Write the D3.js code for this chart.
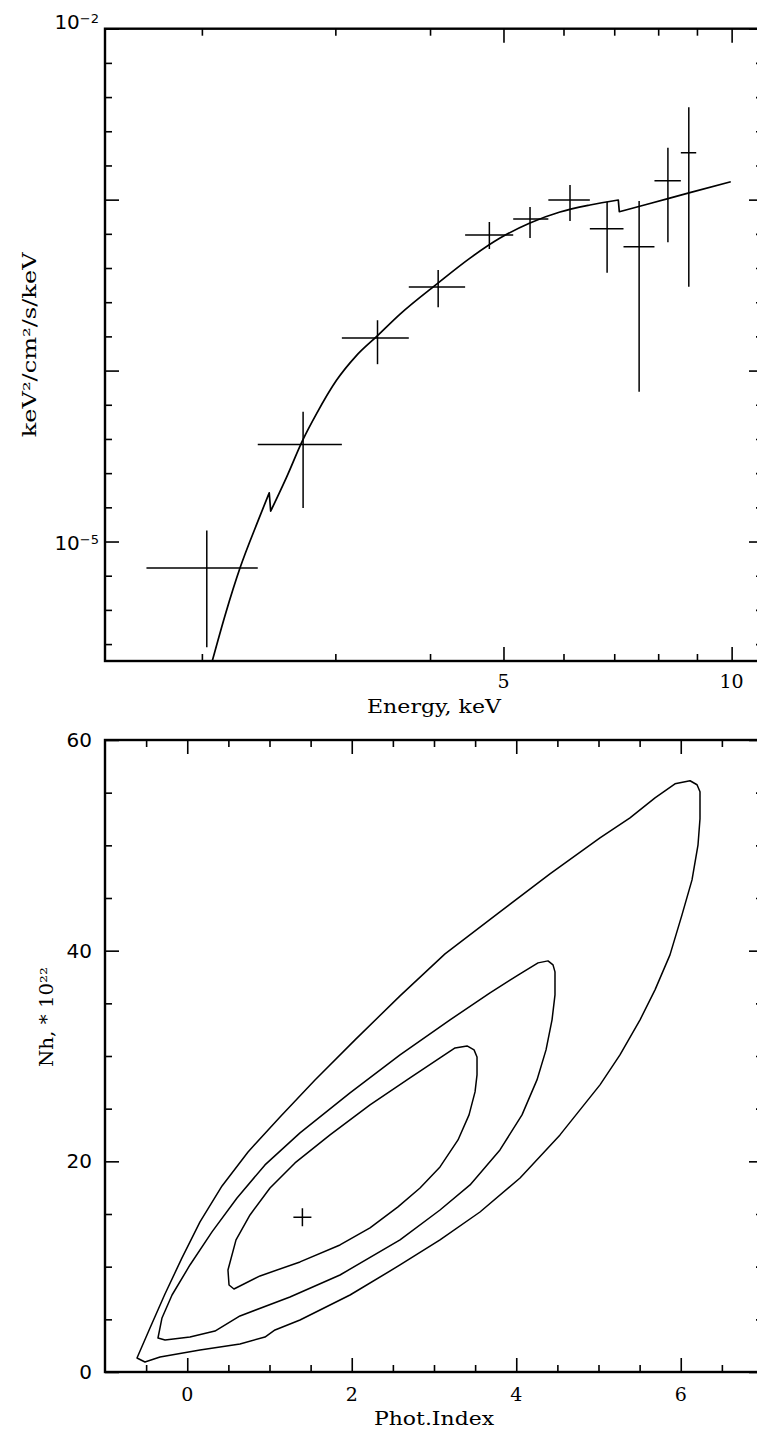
<!DOCTYPE html>
<html>
<head>
<meta charset="utf-8">
<script src="https://cdn.jsdelivr.net/npm/d3@7"></script>
<style>
  body { margin: 0; background: #fff; }
  svg { display: block; }
</style>
</head>
<body>
<svg id="chart" width="757" height="1431"></svg>
<script>
// ---------------- spectrum: binned data (keV, keV^2/cm^2/s/keV) ----------------
const binLo  = [1.69, 2.37, 3.06, 3.75, 4.45, 5.15, 5.73, 6.50, 7.20, 7.91, 8.57];
const binHi  = [2.37, 3.06, 3.75, 4.45, 5.15, 5.73, 6.50, 7.20, 7.91, 8.57, 8.98];
const binMid = [2.03, 2.72, 3.41, 4.10, 4.79, 5.42, 6.12, 6.85, 7.55, 8.24, 8.78];
const flux   = [7.0e-6, 3.70e-5, 1.55e-4, 3.08e-4, 6.21e-4, 7.70e-4, 9.95e-4, 6.76e-4, 5.30e-4, 1.29e-3, 1.88e-3];
const fluxLo = [2.41e-6, 1.57e-5, 1.09e-4, 2.35e-4, 5.14e-4, 5.96e-4, 7.49e-4, 3.74e-4, 7.52e-5, 5.63e-4, 3.09e-4];
const fluxHi = [1.16e-5, 5.74e-5, 1.97e-4, 3.87e-4, 7.39e-4, 9.05e-4, 1.22e-3, 9.72e-4, 9.81e-4, 2.01e-3, 3.47e-3];

// best-fit model curve (absorbed power law; S and Fe K edges give the steps)
const modelE = [2.064, 2.152, 2.246, 2.374, 2.454, 2.465, 2.588, 2.717, 2.835, 3.012, 3.194, 3.405,
                3.652, 4.098, 4.517, 4.948, 5.419, 5.936, 6.503, 7.087, 7.109, 7.803, 8.809, 9.974];
const modelF = [2.0e-6, 3.86e-6, 7.02e-6, 1.334e-5, 1.928e-5, 1.506e-5, 2.391e-5, 3.92e-5, 5.62e-5, 8.80e-5,
                1.216e-4, 1.591e-4, 2.141e-4, 3.251e-4, 4.55e-4, 5.96e-4, 7.30e-4, 8.46e-4, 9.30e-4,
                9.95e-4, 8.50e-4, 9.49e-4, 1.100e-3, 1.273e-3];

// axis ticks of the spectrum panel
const energyMajor = [5, 10];
const energyMinor = [2, 3, 4, 6, 7, 8, 9];
const fluxLabels  = [{v: 1e-5, exp: "−5"}, {v: 1e-2, exp: "−2"}];

// ---------------- confidence contours (Phot.Index, Nh in 1e22) ----------------
const contourInner = [
  [0.495, 9.69], [0.593, 12.54], [0.763, 14.91], [1.006, 17.47], [1.310, 19.85], [1.736, 22.51],
  [2.222, 25.36], [2.708, 27.92], [3.073, 29.82], [3.256, 30.77], [3.402, 30.96], [3.487, 30.58],
  [3.523, 29.91], [3.523, 28.21], [3.499, 26.59], [3.426, 24.41], [3.292, 22.03], [3.073, 19.47],
  [2.830, 17.47], [2.562, 15.67], [2.222, 13.68], [1.857, 12.06], [1.371, 10.45], [0.885, 9.12],
  [0.568, 7.88], [0.508, 8.26]
];
const contourMiddle = [
  [-0.356, 3.23], [-0.307, 5.13], [-0.185, 7.31], [0.033, 10.16], [0.301, 13.30], [0.605, 16.52],
  [0.945, 19.66], [1.371, 22.70], [1.979, 26.50], [2.587, 30.10], [3.195, 33.43], [3.681, 35.99],
  [4.046, 37.80], [4.265, 38.84], [4.386, 39.03], [4.447, 38.65], [4.471, 37.99], [4.471, 35.80],
  [4.435, 33.43], [4.362, 30.58], [4.252, 27.73], [4.070, 24.41], [3.802, 21.08], [3.438, 17.76],
  [3.073, 15.38], [2.587, 12.54], [1.857, 9.21], [1.249, 7.12], [0.641, 5.32], [0.337, 3.89],
  [0.033, 3.32], [-0.270, 3.04]
];
const contourOuter = [
  [-0.611, 1.33], [-0.453, 4.18], [-0.271, 7.41], [-0.064, 10.83], [0.155, 14.25], [0.423, 17.66],
  [0.739, 20.89], [1.128, 24.22], [1.553, 27.73], [2.040, 31.53], [2.587, 35.71], [3.134, 39.70],
  [3.802, 43.68], [4.410, 47.29], [5.018, 50.71], [5.383, 52.61], [5.687, 54.51], [5.930, 55.84],
  [6.113, 56.13], [6.198, 55.75], [6.234, 55.08], [6.234, 52.52], [6.210, 50.05], [6.137, 46.72],
  [6.015, 43.40], [5.869, 39.60], [5.687, 36.28], [5.505, 33.43], [5.261, 30.10], [5.018, 27.26],
  [4.532, 22.51], [4.046, 18.42], [3.559, 15.19], [3.073, 12.54], [2.587, 10.16], [1.979, 7.31],
  [1.371, 4.94], [1.067, 3.99], [0.945, 3.32], [0.641, 2.66], [0.155, 2.09], [-0.331, 1.42],
  [-0.514, 0.95]
];
const bestFit = [1.40, 14.7];

const indexMajor = [0, 2, 4, 6];
const indexMinor = [-0.5, 0.5, 1, 1.5, 2.5, 3, 3.5, 4.5, 5, 5.5, 6.5];
const nhMajor = [0, 20, 40, 60];
const nhMinor = [5, 10, 15, 25, 30, 35, 45, 50, 55];

// ---------------- drawing ----------------
const svg = d3.select("#chart");
svg.append("rect").attr("width", 757).attr("height", 1431).attr("fill", "#fff");

const SERIF = "'DejaVu Serif', 'Liberation Serif', serif";
const SANS  = "'DejaVu Sans', 'Liberation Sans', sans-serif";
const MAJ = 14, MIN = 7;

function styleAxis(g) {
  g.select(".domain").remove();
  g.selectAll(".tick line").attr("stroke", "#000").attr("stroke-width", 1.6);
}

// inward ticks on all four sides plus the frame box
function frameTicks(g, box, xs, ys, xMaj, xMin, yMaj, yMin) {
  const none = () => "";
  [[d3.axisBottom, box.bottom], [d3.axisTop, box.top]].forEach(([ax, y]) => {
    g.append("g").attr("transform", `translate(0,${y})`)
      .call(ax(xs).tickValues(xMaj).tickSize(-MAJ).tickFormat(none)).call(styleAxis);
    g.append("g").attr("transform", `translate(0,${y})`)
      .call(ax(xs).tickValues(xMin).tickSize(-MIN).tickFormat(none)).call(styleAxis);
  });
  [[d3.axisLeft, box.left], [d3.axisRight, box.right]].forEach(([ax, x]) => {
    g.append("g").attr("transform", `translate(${x},0)`)
      .call(ax(ys).tickValues(yMaj).tickSize(-MAJ).tickFormat(none)).call(styleAxis);
    g.append("g").attr("transform", `translate(${x},0)`)
      .call(ax(ys).tickValues(yMin).tickSize(-MIN).tickFormat(none)).call(styleAxis);
  });
  g.append("rect")
    .attr("x", box.left).attr("y", box.top)
    .attr("width", box.right - box.left).attr("height", box.bottom - box.top)
    .attr("fill", "none").attr("stroke", "#000").attr("stroke-width", 2.4);
}

// ===== spectrum panel =====
const sp = {left: 105, right: 763, top: 28.7, bottom: 661};
const xE = d3.scaleLog().domain([1.49, 11]).range([sp.left, sp.right]);
const yF = d3.scaleLog().domain([2e-6, 1e-2]).range([sp.bottom, sp.top]);

const fluxMajor = [1e-5, 1e-4, 1e-3, 1e-2];
const fluxMinor = [];
[-6, -5, -4, -3].forEach(d => {
  for (let i = 1; i <= 4; i++) {
    const v = Math.pow(10, d + 0.2 * i);
    if (v >= 2e-6 && v <= 1e-2) fluxMinor.push(v);
  }
});

const gTop = svg.append("g");
svg.append("clipPath").attr("id", "clipSpec").append("rect")
  .attr("x", sp.left).attr("y", sp.top)
  .attr("width", sp.right - sp.left).attr("height", sp.bottom - sp.top);

// model curve: smooth between absorption edges, sharp steps at the edges
const modelPts = modelE.map((e, i) => [e, modelF[i]]);
const segments = [[modelPts[0]]];
for (let i = 1; i < modelPts.length; i++) {
  if (modelPts[i][0] - modelPts[i - 1][0] < 0.03) segments.push([]);
  segments[segments.length - 1].push(modelPts[i]);
}
const modelLine = d3.line().x(d => xE(d[0])).y(d => yF(d[1])).curve(d3.curveMonotoneX);
const modelD = segments.map((s, k) => {
  const d = s.length > 1 ? modelLine(s) : `M${xE(s[0][0])},${yF(s[0][1])}`;
  return k === 0 ? d : "L" + d.slice(1);
}).join("");
gTop.append("path")
  .attr("clip-path", "url(#clipSpec)")
  .attr("d", modelD)
  .attr("fill", "none").attr("stroke", "#000").attr("stroke-width", 1.7)
  .attr("stroke-linejoin", "round");

// data crosses
const bars = gTop.append("g").attr("stroke", "#000").attr("stroke-width", 1.5)
  .attr("clip-path", "url(#clipSpec)");
binMid.forEach((e, i) => {
  bars.append("line").attr("x1", xE(binLo[i])).attr("x2", xE(binHi[i]))
    .attr("y1", yF(flux[i])).attr("y2", yF(flux[i]));
  bars.append("line").attr("x1", xE(e)).attr("x2", xE(e))
    .attr("y1", yF(fluxLo[i])).attr("y2", yF(fluxHi[i]));
});

frameTicks(gTop, sp, xE, yF, energyMajor, energyMinor, fluxMajor, fluxMinor);

// tick labels
energyMajor.forEach(v => {
  gTop.append("text").attr("x", xE(v)).attr("y", 688)
    .attr("text-anchor", "middle").attr("font-family", SERIF).attr("font-size", 19)
    .text(v);
});
fluxLabels.forEach(l => {
  // the label at the upper frame edge sits on the corner, the others are centred on their tick
  const atTop = l.v === yF.domain()[1];
  const base = yF(l.v) + (atTop ? 0.5 : 8);
  const t = gTop.append("text").attr("x", 99).attr("y", base)
    .attr("text-anchor", "end").attr("font-family", SANS).attr("font-size", 20);
  t.append("tspan").text("10");
  t.append("tspan").attr("dy", -6).attr("font-size", 13).text(l.exp);
});

// axis titles
gTop.append("text").attr("x", (sp.left + sp.right) / 2).attr("y", 713)
  .attr("text-anchor", "middle").attr("font-family", SERIF).attr("font-size", 19)
  .attr("textLength", 134).attr("lengthAdjust", "spacingAndGlyphs")
  .text("Energy, keV");
gTop.append("text")
  .attr("transform", `translate(36,${(sp.top + sp.bottom) / 2}) rotate(-90)`)
  .attr("text-anchor", "middle").attr("font-family", SERIF).attr("font-size", 18)
  .attr("textLength", 185).attr("lengthAdjust", "spacingAndGlyphs")
  .text("keV²/cm²/s/keV");

// ===== contour panel =====
const cp = {left: 105, right: 763, top: 740, bottom: 1372};
const xI = d3.scaleLinear().domain([-1, 7]).range([cp.left, cp.right]);
const yN = d3.scaleLinear().domain([0, 60]).range([cp.bottom, cp.top]);

const gBot = svg.append("g");
const contourLine = d3.line().x(d => xI(d[0])).y(d => yN(d[1])).curve(d3.curveLinearClosed);
[contourOuter, contourMiddle, contourInner].forEach(c => {
  gBot.append("path").attr("d", contourLine(c))
    .attr("fill", "none").attr("stroke", "#000").attr("stroke-width", 1.5)
    .attr("stroke-linejoin", "round");
});

// best-fit marker
const bx = xI(bestFit[0]), by = yN(bestFit[1]);
gBot.append("path")
  .attr("d", `M${bx - 9},${by}H${bx + 9}M${bx},${by - 9}V${by + 9}`)
  .attr("stroke", "#000").attr("stroke-width", 1.5);

frameTicks(gBot, cp, xI, yN, indexMajor, indexMinor, nhMajor, nhMinor);

indexMajor.forEach(v => {
  gBot.append("text").attr("x", xI(v)).attr("y", 1401)
    .attr("text-anchor", "middle").attr("font-family", SERIF).attr("font-size", 19)
    .text(v);
});
nhMajor.forEach(v => {
  gBot.append("text").attr("x", 92).attr("y", yN(v) + 7)
    .attr("text-anchor", "end").attr("font-family", SANS).attr("font-size", 20)
    .text(v);
});

gBot.append("text").attr("x", (cp.left + cp.right) / 2).attr("y", 1425)
  .attr("text-anchor", "middle").attr("font-family", SERIF).attr("font-size", 19)
  .attr("textLength", 120).attr("lengthAdjust", "spacingAndGlyphs")
  .text("Phot.Index");
gBot.append("text")
  .attr("transform", `translate(53,1017) rotate(-90)`)
  .attr("text-anchor", "middle").attr("font-family", SERIF).attr("font-size", 18)
  .attr("textLength", 100).attr("lengthAdjust", "spacingAndGlyphs")
  .text("Nh, * 10²²");
</script>
</body>
</html>
